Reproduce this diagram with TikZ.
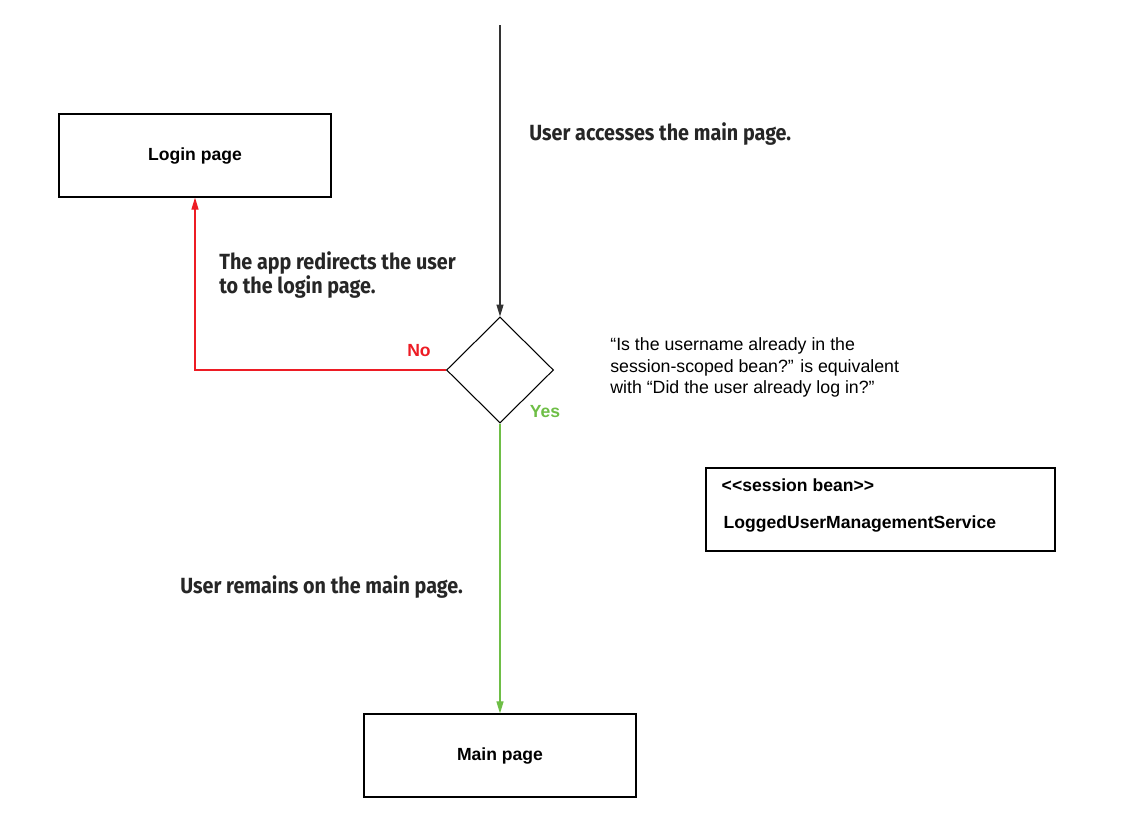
\documentclass[tikz,border=0pt]{standalone}
\usepackage{fontspec}
\setmainfont{Liberation Sans}
\newfontfamily\notefont{Fira Sans}[FakeStretch=0.9]
\usetikzlibrary{arrows.meta}
\usetikzlibrary{positioning}
\usetikzlibrary{shapes.geometric}
\definecolor{noRed}{RGB}{237,28,36}
\definecolor{yesGreen}{RGB}{110,190,70}
\tikzset{
    page/.style={
           rectangle,
           draw=black, line width=0.7pt,
           minimum width=272*0.02cm,
           minimum height=83*0.02cm,
           font=\fontsize{10}{12}\selectfont\bfseries,
           text centered,
           },
    decision/.style={
           diamond,
           draw=black, line width=0.6pt,
           minimum width=107*0.02cm,
           minimum height=106*0.02cm,
           inner sep=0pt,
           },
    note/.style={
           font=\notefont\fontsize{12.5}{13.8}\selectfont\bfseries,
           text=black!85, anchor=west, align=left,
           inner sep=0pt,
           },
    flow/.style={-{Triangle[length=6.8pt,width=4pt]}, line width=0.6pt},
}
\begin{document}
\begin{tikzpicture}[x=0.02cm,y=-0.02cm]
    \useasboundingbox (0,0) rectangle (1126,816);
    \node[page] (login) at (195,155.5) {Login page};
    \node[page] (main)  at (500,755.5) {Main page};
    \node[decision] (dec) at (500,370) {};
    \node[draw=black, line width=0.7pt, minimum width=349*0.02cm,
          minimum height=83*0.02cm] (bean) at (880.5,509.5) {};
    \coordinate (start) at (500,25);
    \coordinate (corner) at (login.south |- dec.west);

    % arrows
    \draw[flow, black!80] (start) -- (dec.north);
    \draw[flow, noRed] (dec.west) -- (corner) -- (login.south);
    \draw[flow, yesGreen] (dec.south) -- (main.north);

    % labels
    \node[font=\fontsize{10}{12}\selectfont\bfseries, text=noRed] (no) at (419,351) {No};
    \node[font=\fontsize{10}{12}\selectfont\bfseries, text=yesGreen] (yes) at (545,412) {Yes};
    \node[note] (access) at (529,134) {User accesses the main page.};
    \node[note] (redirect) at (219,275) {The app redirects the user\\to the login page.};
    \node[note] (remain) at (180,587) {User remains on the main page.};
    \node[anchor=west, align=left, inner sep=0pt,
          font=\fontsize{10.1}{12.2}\selectfont] (question) at (610,367.5)
          {“Is the username already in the\\session-scoped bean?” is equivalent\\with “Did the user already log in?”};
    \node[anchor=west, inner sep=0pt, font=\fontsize{10}{12}\selectfont\bfseries]
          (stereo) at (bean.west |- 0,485) [xshift=16*0.02cm] {{<}{<}session bean{>}{>}};
    \node[anchor=west, inner sep=0pt, font=\fontsize{10}{12}\selectfont\bfseries]
          (service) at (bean.west |- 0,524) [xshift=18*0.02cm] {LoggedUserManagementService};
\end{tikzpicture}
\end{document}
